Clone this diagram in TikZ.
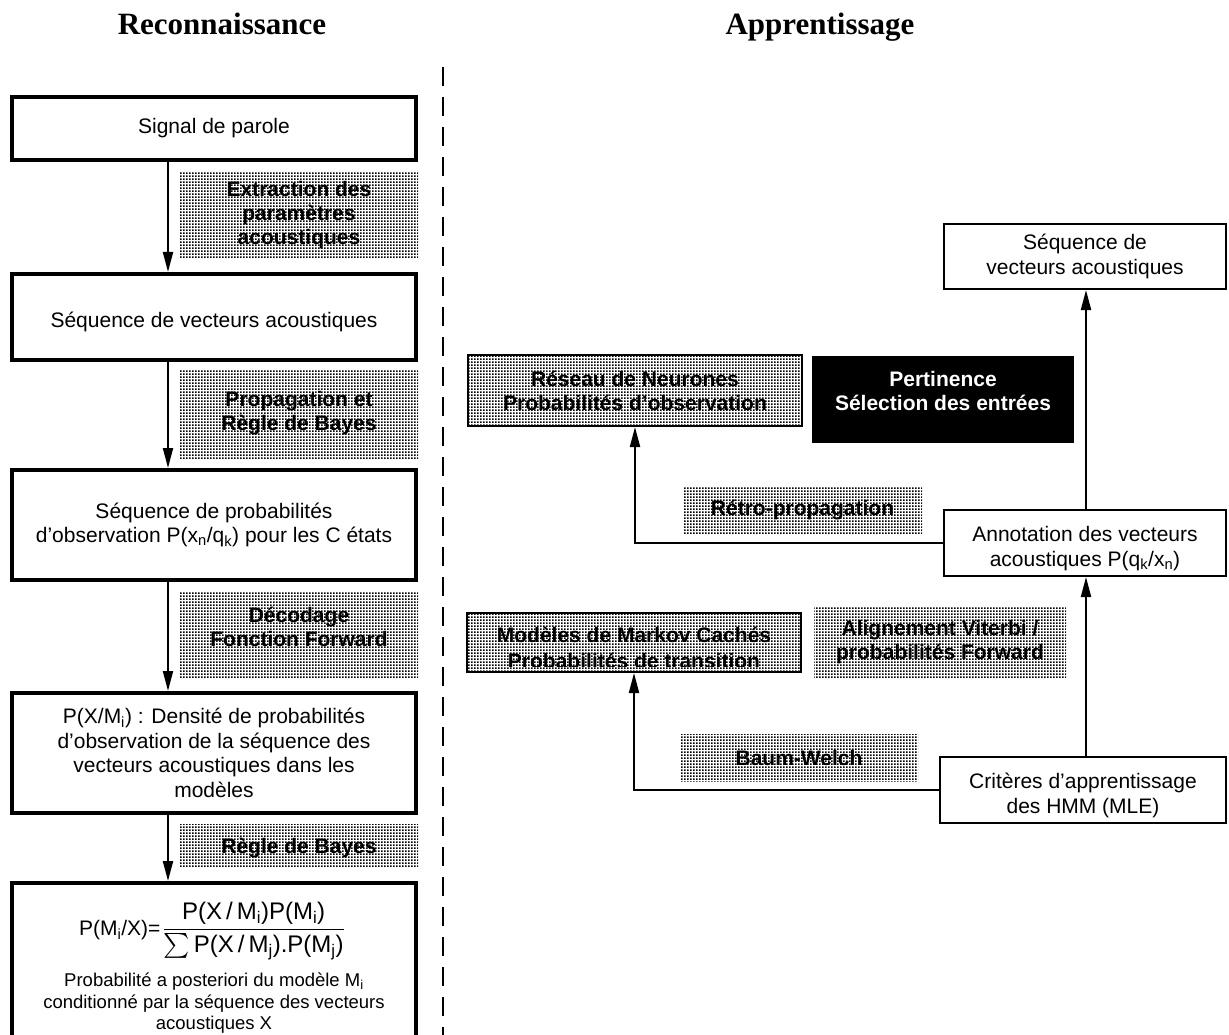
\documentclass[tikz,border=0pt]{standalone}
\usepackage{fix-cm}
\usepackage{amsmath}
\usepackage{fontspec}
\setmainfont{Liberation Sans}
\newfontfamily\titlefont{Liberation Serif}
\usetikzlibrary{arrows.meta,patterns.meta}
\newcommand\fsA{\fontsize{21}{24.5}\selectfont}
\newcommand\fsG{\fontsize{21}{24}\selectfont}
\newcommand\fsB{\fontsize{18.5}{21.5}\selectfont}
\newcommand\fsT{\fontsize{31}{36}\selectfont}
\newcommand\dn[1]{\rule{0pt}{#1}}
\newcommand\up[1]{\rule[-#1]{0pt}{0pt}}
\pgfdeclarepattern{
  name=pdots,
  type=uncolored,
  bottom left={\pgfpoint{0pt}{0pt}},
  top right={\pgfpoint{3pt}{3pt}},
  tile size={\pgfpoint{3pt}{3pt}},
  code={\pgfpathrectangle{\pgfpointorigin}{\pgfpoint{2.1pt}{2.1pt}}\pgfusepath{fill}}
}
\begin{document}
\begin{tikzpicture}[x=1pt,y=-1pt,
  every node/.style={inner sep=0pt, align=center},
  lbox/.style={draw, line width=4pt, minimum width=404pt, font=\fsA},
  rbox/.style={draw, line width=2pt, font=\fsA},
  gbox/.style={pattern=pdots, pattern color=black, minimum width=238pt, font=\fsG\bfseries, text=black},
  gframe/.style={gbox, draw, line width=2pt},
  arr/.style={draw, line width=2pt, -{Triangle[length=20pt,width=10pt]}},
  sep/.style={line width=2pt, dash pattern=on 19pt off 11pt},
  title/.style={font=\titlefont\bfseries\fsT, anchor=base}
]
\useasboundingbox (0,0) rectangle (1229,1035);
\clip (0,0) rectangle (1229,1035);

% titles
\node[title] (t1) at (222,35) {Reconnaissance};
\node[title] (t2) at (820,35) {Apprentissage};

% separator
\coordinate (sepA) at (443,67);
\coordinate (sepB) at (443,1040);
\draw[sep] (sepA) -- (sepB);

% ---------- left column ----------
\coordinate (ax) at (168,0);
\node[lbox, minimum height=63pt] (sig) at (214,128.5) {Signal de parole};
\node[gbox, minimum height=86pt] (g1) at (299,215) {Extraction des\\paramètres\\acoustiques};
\node[lbox, minimum height=86pt] (seq) at (214,317) {\dn{26pt}Séquence de vecteurs acoustiques};
\node[gbox, minimum height=88pt] (g2) at (299,414) {Propagation et\\Règle de Bayes\up{6pt}};
\node[lbox, minimum height=110pt] (prob) at (214,525) {Séquence de probabilités\\d’observation P(x\textsubscript{n}/q\textsubscript{k}) pour les C états};
\node[gbox, minimum height=86pt] (g3) at (299,634) {Décodage\\Fonction Forward\up{14pt}};
\node[lbox, minimum height=120pt] (dens) at (214,753) {P(X/M\textsubscript{i}) : Densité de probabilités\\d’observation de la séquence des\\vecteurs acoustiques dans les\\modèles};
\node[gbox, minimum height=43pt] (g4) at (299,845.5) {\dn{20pt}Règle de Bayes};
\node[lbox, minimum height=182pt] (post) at (214,974) {};
\node (form) at (212,931) {{\fsA P(M\textsubscript{i}/X)=}\hspace{2pt}{\fontsize{24}{28}\selectfont$\dfrac{\text{P(X\,/\,M\textsubscript{i})P(M\textsubscript{i})}}{\textstyle\sum\text{P(X\,/\,M\textsubscript{j}).P(M\textsubscript{j})}}$}};
\node[font=\fsB, anchor=north] (postT) at (214,973) {Probabilité a posteriori du modèle M\textsubscript{i}\\conditionné par la séquence des vecteurs\\acoustiques X};

\draw[arr] (sig.south -| ax) -- (seq.north -| ax);
\draw[arr] (seq.south -| ax) -- (prob.north -| ax);
\draw[arr] (prob.south -| ax) -- (dens.north -| ax);
\draw[arr] (dens.south -| ax) -- (post.north -| ax);

% ---------- right column ----------
\coordinate (vx) at (1086,0);
\node[rbox, minimum width=282pt, minimum height=65pt] (seqR) at (1085,256.5) {Séquence de\\vecteurs acoustiques};
\node[gframe, minimum width=334pt, minimum height=71pt] (res) at (635,390.5) {Réseau de Neurones\\Probabilités d’observation};
\node[fill=black, minimum width=262pt, minimum height=87pt] (pert) at (943,399.5) {};
\node[text=white, font=\fsG\bfseries] (pertT) at (943,391) {Pertinence\\Sélection des entrées};
\node[gbox, minimum width=239pt, minimum height=47pt] (retro) at (802.5,510.5) {Rétro-propagation};
\node[rbox, minimum width=282pt, minimum height=66pt] (annot) at (1085,543) {\dn{26pt}Annotation des vecteurs\\acoustiques P(q\textsubscript{k}/x\textsubscript{n})};
\node[gframe, minimum width=334pt, minimum height=59pt] (mod) at (634,642.5) {};
\begin{scope}
  \clip (mod.north west) rectangle ([yshift=7pt]mod.south east);
  \node[font=\fontsize{21}{26}\selectfont\bfseries, text=black] (modT) at (634,648) {Modèles de Markov Cachés\\Probabilités de transition};
\end{scope}
\node[gbox, minimum width=252pt, minimum height=70pt] (align) at (940,642) {Alignement Viterbi /\\probabilités Forward};
\node[gbox, minimum width=238pt, minimum height=47pt] (baum) at (799,757.5) {Baum-Welch};
\node[rbox, minimum width=286pt, minimum height=66pt] (crit) at (1083,790) {\dn{26pt}Critères d’apprentissage\\des HMM (MLE)};

\draw[arr] (annot.north -| vx) -- (seqR.south -| vx);
\draw[arr] (crit.north -| vx) -- (annot.south -| vx);
\draw[arr] (annot.west) -| (res.south);
\draw[arr] (crit.west) -| (mod.south);
\end{tikzpicture}
\end{document}
